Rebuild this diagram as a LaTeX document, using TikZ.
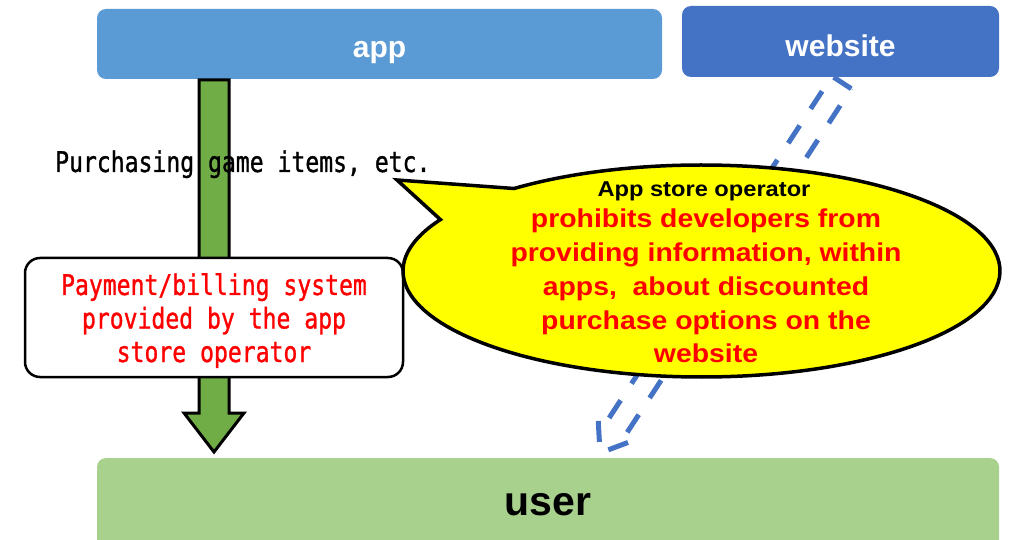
\documentclass[tikz,border=0pt]{standalone}
\usepackage{fontspec}
\setmainfont{Liberation Sans}
\newfontfamily\monof[FakeStretch=0.81,FakeBold=1]{DejaVu Sans Mono}
\newfontfamily\widef[FakeStretch=1.1]{Liberation Sans}
\usetikzlibrary{calc}
\definecolor{appblue}{HTML}{5B9BD5}
\definecolor{webblue}{HTML}{4472C4}
\definecolor{usergreen}{HTML}{A9D18E}
\definecolor{arrowgreen}{HTML}{70AD47}
\definecolor{calloutyellow}{HTML}{FFFF00}
\definecolor{redtext}{HTML}{FF0000}
\begin{document}
\begin{tikzpicture}[x=1pt,y=1pt,
  topbox/.style={rounded corners=9pt, inner sep=0pt, text=white, text depth=0pt,
    font=\bfseries\fontsize{30}{30}\selectfont},
  greenarrow/.style={draw=black, line width=3pt, fill=arrowgreen, line join=miter},
  dasharrow/.style={draw=webblue, line width=5pt, dash pattern=on 21pt off 20pt},
  paybox/.style={draw=black, line width=2.5pt, fill=white, rounded corners=15pt, inner sep=0pt},
  paytext/.style={anchor=base, inner sep=0pt, text=redtext, font=\monof\fontsize{28.5}{28.5}\selectfont},
  callout/.style={draw=black, line width=3.5pt, fill=calloutyellow, line join=miter},
  redline/.style={anchor=base, inner sep=0pt, text=redtext, font=\widef\bfseries\fontsize{25.8}{25.8}\selectfont},
]
\useasboundingbox (0,0) rectangle (1010,539);
\clip (0,0) rectangle (1010,539);

% user box
\node[rounded corners=9pt, inner sep=0pt, fill=usergreen, minimum width=902pt, minimum height=102pt,
  text height=12pt, text depth=0pt, font=\bfseries\fontsize{41}{41}\selectfont] (user) at (548,30) {user};

% app box
\node[topbox, fill=appblue, minimum width=565pt, minimum height=70pt, text height=28pt] (app) at (379.5,495) {app};

% dashed block arrow website -> user
\coordinate (S) at (841.6,456.6);
\coordinate (T) at (600,86);
\begin{scope}[shift={(S)}, rotate=236.9]
  \draw[dasharrow] (0,11.5) -- (0,-11.5) -- (412.4,-11.5) -- (412.4,-22) -- (442.4,0)
    -- (412.4,22) -- (412.4,11.5) -- cycle;
\end{scope}

% website box
\node[topbox, fill=webblue, minimum width=317pt, minimum height=71pt, text height=31pt] (website) at (840.5,497.5) {website};

% green block arrow app -> user
\coordinate (gtop) at (214,459);
\coordinate (gtip) at (214,87);
\draw[greenarrow] ($(gtop)+(-15,0)$) -- (199,126) -- (184,126) -- (gtip) -- (244,126) -- (229,126) -- ($(gtop)+(15,0)$) -- cycle;

% purchasing text
\node[anchor=base west, inner sep=0pt, font=\monof\fontsize{28.5}{28.5}\selectfont] (purch) at (55,367) {Purchasing game items, etc.};

% payment box
\node[paybox, minimum width=378pt, minimum height=119pt] (pay) at (214,221.5) {};
\node[paytext] (pay1) at (214,244) {Payment/billing system};
\node[paytext] (pay2) at (214,210.5) {provided by the app};
\node[paytext] (pay3) at (214,177) {store operator};

% callout
\coordinate (C) at (701.5,268);
\coordinate (tail) at (397,359);
\draw[callout] (tail) -- ($(C)+(128.9:298.5 and 106)$)
  arc[start angle=128.9, end angle=-209, x radius=298.5, y radius=106] -- cycle;
\node[anchor=base, inner sep=0pt, font=\widef\bfseries\fontsize{21.5}{21.5}\selectfont] (op) at (704,342) {App store operator};
\node[redline] (r1) at (706,311) {prohibits developers from};
\node[redline] (r2) at (706,277) {providing information, within};
\node[redline] (r3) at (706,243) {apps,~ about discounted};
\node[redline] (r4) at (706,209) {purchase options on the};
\node[redline] (r5) at (706,176) {website};
\end{tikzpicture}
\end{document}
